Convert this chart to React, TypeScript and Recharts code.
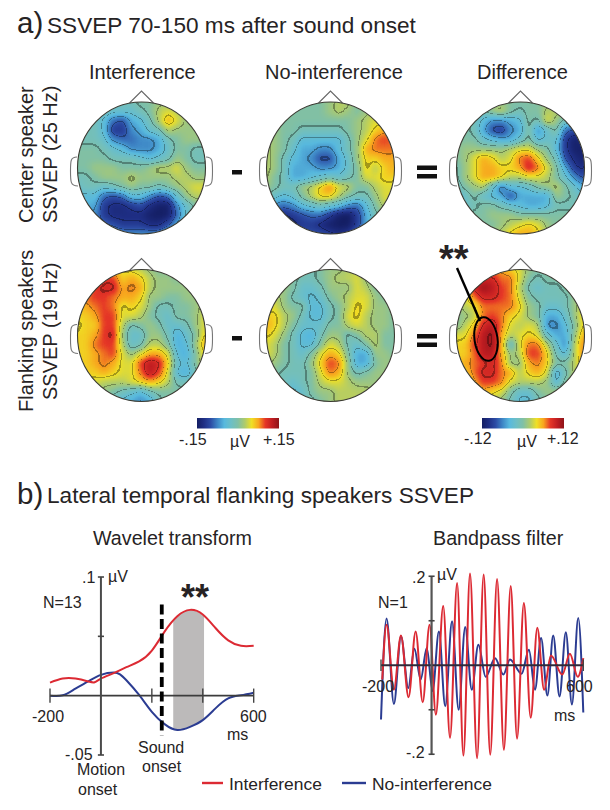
import React from 'react';
import { ScatterChart, Scatter, XAxis, YAxis, ComposedChart, Line, Area, ReferenceLine } from 'recharts';

// ---------- topographic maps, values read on a 15x15 grid (arbitrary colour units, 0 = teal) ----------
const centerInterference = [
[0,0,0,0,-1,-1,-1,0,0,1,1,1,0,0,0],
[0,0,-1,-1,-2,-2,-2,-1,0,2,3,2,1,0,0],
[-1,-1,-1,-3,-6,-7,-4,-3,-1,2,5,3,1,1,1],
[-1,-1,-1,-3,-8,-8,-5,-4,-2,-1,2,1,1,1,1],
[-1,-1,-1,-2,-5,-6,-6,-5,-5,-4,-1,0,1,1,1],
[0,0,0,-1,-2,-3,-5,-5,-5,-4,-2,0,0,-1,-1],
[0,0,0,0,-1,-1,-1,-2,-3,-2,-1,1,0,-1,-1],
[0,0,1,1,1,0,0,0,1,2,2,3,1,0,0],
[-1,-1,0,1,1,1,2,1,1,1,1,2,2,1,1],
[-2,-1,-1,-2,-1,0,1,0,0,-1,0,1,2,3,3],
[-3,-3,-3,-6,-7,-6,-3,-3,-5,-7,-6,-2,1,2,2],
[-3,-4,-4,-8,-9,-9,-8,-7,-9,-10,-10,-5,-2,0,0],
[-3,-4,-5,-8,-9,-9,-9,-9,-10,-11,-10,-6,-2,-1,-1],
[-3,-4,-4,-6,-7,-8,-8,-8,-9,-9,-7,-4,-2,-1,-1],
[-2,-3,-3,-4,-4,-5,-5,-5,-5,-5,-3,-2,-1,-1,-1],
];
const centerNoInterference = [
[1,1,1,0,0,0,0,1,2,2,0,0,0,0,0],
[1,1,1,0,0,0,0,1,2,1,0,1,2,1,1],
[2,1,0,0,0,0,0,0,0,0,1,2,3,2,2],
[2,1,0,0,-1,-1,-1,-1,-1,0,1,2,4,5,5],
[2,1,0,-1,-3,-3,-3,-3,-3,-1,1,3,6,7,6],
[2,1,0,-2,-4,-4,-5,-5,-3,-1,1,5,6,6,6],
[2,1,-1,-3,-4,-5,-7,-7,-4,-2,1,4,4,5,5],
[2,1,-1,-4,-4,-4,-5,-5,-4,-2,0,4,2,4,5],
[2,0,-1,-4,-4,-3,-2,-1,-2,-1,0,3,3,4,4],
[1,0,-1,-1,1,2,4,6,3,2,0,0,2,3,3],
[0,-2,-3,-2,0,2,4,4,2,0,-1,-1,1,3,3],
[-3,-5,-6,-5,-3,-2,-1,-2,-3,-5,-6,-3,0,2,2],
[-5,-8,-9,-8,-7,-6,-6,-8,-10,-11,-8,-4,-1,1,1],
[-5,-8,-9,-9,-8,-8,-9,-10,-11,-11,-8,-4,-2,0,0],
[-4,-6,-7,-7,-7,-7,-7,-8,-9,-8,-5,-3,-2,-1,-1],
];
const centerDifference = [
[0,0,0,0,1,1,0,0,0,0,1,0,0,0,0],
[0,0,0,-1,1,2,0,-1,0,0,2,2,1,0,0],
[0,0,-1,-3,-5,-5,-4,-3,0,-1,3,1,-1,-2,-2],
[0,0,-1,-4,-7,-8,-5,-4,0,-5,-2,0,-6,-7,-7],
[0,0,0,-2,-3,-4,-4,-2,0,-3,-2,-2,-8,-10,-9],
[0,1,1,1,1,1,2,3,3,1,0,-3,-8,-10,-10],
[0,1,3,5,4,2,3,6,7,4,1,-1,-7,-9,-10],
[-1,1,3,5,5,4,4,5,8,6,3,0,-4,-8,-9],
[-1,1,3,5,5,4,2,2,3,3,2,0,-2,-5,-7],
[-2,0,1,2,-2,-6,-3,-3,-2,0,1,2,0,-2,-4],
[-3,-2,0,-2,-3,-4,-7,-4,-4,-4,-4,1,0,-1,-2],
[-3,-2,-1,0,0,-1,-2,-3,-4,-4,-3,-1,-1,-1,-1],
[-2,-1,0,0,1,1,1,0,0,0,0,0,0,0,0],
[-2,0,0,0,0,1,2,3,4,3,1,0,1,1,1],
[-1,0,0,1,1,2,4,5,5,4,2,1,1,1,1],
];
const flankInterference = [
[3,3,3,4,4,3,3,2,1,0,0,0,1,1,1],
[4,4,5,7,7,4,5,4,2,1,1,0,1,1,1],
[4,5,7,8,8,5,6,5,2,1,1,1,1,1,1],
[5,6,7,7,6,5,5,4,1,1,0,0,1,1,1],
[4,5,6,7,6,3,4,3,1,-1,-1,0,0,1,2],
[4,4,5,7,7,3,3,2,0,-1,-2,0,0,1,3],
[3,4,4,7,7,2,-1,0,1,0,-2,-2,-1,1,3],
[4,4,5,7,8,1,-2,-2,1,1,-1,-4,-2,0,4],
[4,4,6,7,7,2,-2,-1,2,2,0,-4,-3,1,5],
[4,4,5,6,7,3,1,3,5,5,3,-3,-4,0,4],
[4,4,5,6,5,3,3,7,9,8,4,-2,-3,0,3],
[3,4,4,5,4,3,3,6,9,7,3,-3,-4,-1,2],
[3,3,3,2,2,2,3,4,5,4,2,-1,-1,0,1],
[2,2,1,1,0,-1,-2,-3,-1,0,0,0,0,0,0],
[1,1,0,-1,-2,-3,-4,-5,-4,-1,0,0,0,0,0],
];
const flankNoInterference = [
[1,1,1,1,0,-1,0,1,1,2,2,1,0,0,0],
[1,1,1,0,-1,-1,0,1,2,2,3,1,0,0,0],
[2,1,1,0,-2,-2,-1,1,1,1,3,2,0,0,0],
[2,2,1,-1,-2,-3,-2,0,1,2,3,3,1,0,0],
[3,3,1,0,0,-3,-3,-1,0,2,4,3,1,1,0],
[4,4,2,1,-1,-3,-3,-1,0,3,4,2,1,1,0],
[5,4,2,0,-2,-2,-2,0,0,2,3,2,1,1,0],
[4,3,1,-1,-3,-4,-1,1,1,-1,0,2,2,0,0],
[3,2,0,-1,-3,-3,0,3,2,-1,-2,0,2,0,0],
[3,2,0,-1,-2,0,3,5,4,0,-4,-4,1,1,0],
[2,1,0,-1,-1,1,4,7,6,1,-4,-4,0,1,1],
[1,0,-1,-1,-1,0,3,6,5,1,-1,0,1,1,0],
[0,-1,-1,-2,-1,0,2,3,3,2,1,1,1,1,1],
[-1,-2,-2,-3,-2,0,1,1,2,2,2,2,1,1,1],
[-1,-2,-3,-3,-2,-1,0,1,2,2,2,1,1,1,1],
];
const flankDifference = [
[3,3,4,5,5,5,4,3,1,0,0,0,0,0,0],
[3,3,6,8,8,6,6,3,0,-1,0,0,0,0,1],
[2,3,8,10,9,7,6,2,-1,-2,-1,-1,0,1,1],
[2,3,6,8,8,7,6,3,0,-1,-1,-1,-1,1,2],
[1,2,3,6,6,6,6,4,1,0,-2,-2,-1,1,3],
[0,1,2,6,7,6,4,3,1,0,-4,-4,-2,1,4],
[0,2,4,8,9,6,3,2,3,2,-5,-5,-3,0,4],
[3,3,6,9,10,5,2,3,4,3,-2,-4,-4,1,5],
[4,4,7,9,10,5,-2,3,6,6,2,-2,-5,2,6],
[4,4,6,9,9,5,1,2,7,7,4,-1,-3,2,6],
[4,5,6,7,8,6,1,1,5,6,4,0,0,2,5],
[3,4,6,8,8,6,5,2,4,5,3,-4,-1,2,3],
[2,3,5,7,7,6,3,2,2,2,1,-3,0,2,2],
[1,2,3,5,4,3,0,-2,-2,0,1,1,2,2,2],
[0,1,2,3,2,1,-1,-3,-3,-1,0,1,1,1,1],
];
const colorStops = ['#141e63','#1f2f85','#2c4ca5','#3e86c6','#58b9de','#6dbfc6','#80c0a6','#aecb6c','#f0e024','#f8a51e','#e53627','#c01d22','#8e1418'];
const contourLevels = [-9.7,-7.5,-5.2,-2.9,-0.6,1.7,4,6.3,8.6,10.9];

// ---------- wavelet transform (N=13) ----------
const waveletMs = [-200,-150,-100,-50,-25,0,50,100,150,200,250,300,350,400,450,500,550,600];
const waveletRed = [.011,.0144,.0144,.012,.0113,.0144,.019,.024,.0288,.038,.054,.067,.0723,.0684,.057,.0466,.042,.042];
const waveletBlueMs = [-200,-150,-100,-50,0,50,75,100,150,200,250,300,350,400,450,500,550,600];
const waveletBlue = [0,.0003,.006,.012,.0175,.0195,.018,.013,.0006,-.0136,-.024,-.029,-.0263,-.0206,-.0107,-.0023,.0003,.0025];
const shadeMs = [284,300,350,405];
const shadeLow = [-.0285,-.029,-.0263,-.0197];
const shadeHigh = [.063,.067,.0723,.067];

// ---------- bandpass filter (N=1), extremes of the oscillation ----------
const bandRedMs = [-195,-178,-149,-121,-91,-63,-35,-8,17,46,73,101,126,152,180,206,232,259,286,313,338,365,392,418,445,472,517,547,578,600];
const bandRed = [-.032,.091,-.055,.067,-.072,.076,-.083,.091,-.111,.133,-.163,.185,-.203,.206,-.209,.204,-.201,.194,-.19,.178,-.165,.14,-.118,.084,-.055,.022,-.021,.026,-.026,.016];
const bandBlueMs = [-200,-178,-149,-121,-92,-68,-43,-19,4,29,54,81,107,133,159,185,214,251,284,310,356,385,409,433,458,481,506,531,555,580,600];
const bandBlue = [-.122,.105,-.087,.065,-.051,.037,-.032,.039,-.058,.076,-.092,.099,-.1,.086,-.055,.046,-.026,.016,-.021,.013,-.019,.035,-.055,.061,-.068,.067,-.07,.074,-.088,.106,-.106];

const FONT = '"Liberation Sans", Arial, sans-serif';
const INK = '#262324';
const RED = '#dc2a33';
const BLUE = '#2b3c92';

const hexRgb = (h: string) => [1, 3, 5].map((i) => parseInt(h.slice(i, i + 2), 16));
const N_TABLE = 256;
function colorTable() {
  const r: string[] = [], g: string[] = [], b: string[] = [];
  for (let i = 0; i < N_TABLE; i++) {
    const v = -12 + (24 * i) / 255;
    const p = Math.min(11.999, (v + 12) / 2);
    const k = Math.floor(p), t = p - k;
    const a = hexRgb(colorStops[k]), c = hexRgb(colorStops[k + 1]);
    const dist = Math.min(...contourLevels.map((l) => Math.abs(l - v)));
    const f = dist < 0.12 ? 0.68 : 1;
    const col = a.map((x, j) => ((x + (c[j] - x) * t) * f) / 255);
    r.push(col[0].toFixed(3)); g.push(col[1].toFixed(3)); b.push(col[2].toFixed(3));
  }
  return [r.join(' '), g.join(' '), b.join(' ')];
}
const GAIN = 1.15;
const grayOf = (v: number) => Math.round(((Math.max(-12, Math.min(12, v * GAIN)) + 12) / 24) * 255);

function Topo({ grid, cx, cy }: { grid: number[][]; cx: number; cy: number }) {
  const rx = 64, ry = 66;
  const sx = (2 * rx) / 14, sy = (2 * ry) / 14;
  const w = sx * 16, h = sy * 16;
  const cells = grid.flatMap((row, j) => row.map((v, i) => ({ col: i, row: j, v })));
  const g0 = grayOf(0);
  return (
    <div style={{ position: 'absolute', left: cx - w / 2, top: cy - h / 2, width: w, height: h, background: `rgb(${g0},${g0},${g0})`,
      filter: 'url(#topoFilter)', clipPath: `ellipse(${rx}px ${ry}px at ${w / 2}px ${h / 2}px)` }}>
      <ScatterChart width={w} height={h} margin={{ top: 0, right: 0, bottom: 0, left: 0 }}>
        <XAxis type="number" dataKey="col" domain={[-1, 15]} hide />
        <YAxis type="number" dataKey="row" domain={[-1, 15]} reversed hide />
        <Scatter data={cells} isAnimationActive={false} shape={(p: any) => {
          const g = grayOf(p.payload.v);
          return <rect x={p.cx - sx / 2 - 0.5} y={p.cy - sy / 2 - 0.5} width={sx + 1} height={sy + 1} fill={`rgb(${g},${g},${g})`} />;
        }} />
      </ScatterChart>
    </div>
  );
}

function Head({ cx, cy }: { cx: number; cy: number }) {
  const rx = 64, ry = 66;
  return (
    <g fill="none">
      <path d={`M${cx - 12} ${cy - ry + 1} L${cx} ${cy - ry - 11} L${cx + 12} ${cy - ry + 1}`} stroke="#666" strokeWidth={1.1} />
      <path d={`M${cx - rx - 0.5} ${cy - 11} C${cx - rx - 7} ${cy - 11} ${cx - rx - 7} ${cy - 7} ${cx - rx - 7} ${cy + 3} C${cx - rx - 7} ${cy + 14} ${cx - rx - 7} ${cy + 18} ${cx - rx + 0.5} ${cy + 18}`} stroke="#777" strokeWidth={1.1} />
      <path d={`M${cx + rx + 0.5} ${cy - 11} C${cx + rx + 7} ${cy - 11} ${cx + rx + 7} ${cy - 7} ${cx + rx + 7} ${cy + 3} C${cx + rx + 7} ${cy + 14} ${cx + rx + 7} ${cy + 18} ${cx + rx - 0.5} ${cy + 18}`} stroke="#777" strokeWidth={1.1} />
      <ellipse cx={cx} cy={cy} rx={rx} ry={ry} stroke="#3a3a32" strokeWidth={1.1} />
    </g>
  );
}

function T({ x, y, s = 16, children, anchor, rot, weight }: any) {
  return (
    <text x={x} y={y} fontSize={s} fontFamily={FONT} fill={INK} textAnchor={anchor || 'start'} fontWeight={weight}
      transform={rot ? `rotate(-90 ${x} ${y})` : undefined}>{children}</text>
  );
}

const toXY = (xs: number[], ys: number[]) => xs.map((x, i) => ({ x, y: ys[i] }));

function WaveletChart() {
  const shade = shadeMs.map((x, i) => ({ x, range: [shadeLow[i], shadeHigh[i]] }));
  const m = 10;
  return (
    <div style={{ position: 'absolute', left: 50 - m, top: 577.3 - m }}>
      <ComposedChart width={203.7 + 2 * m} height={178 + 2 * m} margin={{ top: m, right: m, bottom: m, left: m }}>
        <XAxis type="number" dataKey="x" domain={[-200, 600]} hide />
        <YAxis type="number" domain={[-0.05, 0.1]} hide />
        <Area data={shade} dataKey="range" type="monotone" fill="#bcbaba" fillOpacity={1} stroke="none" isAnimationActive={false} />
        <Line data={toXY(waveletBlueMs, waveletBlue)} dataKey="y" type="natural" stroke={BLUE} strokeWidth={2} dot={false} isAnimationActive={false} />
        <Line data={toXY(waveletMs, waveletRed)} dataKey="y" type="natural" stroke={RED} strokeWidth={2} dot={false} isAnimationActive={false} />
        <ReferenceLine y={0} stroke="#3c3c3c" strokeWidth={1.6} ifOverflow="visible" />
        <ReferenceLine x={0} stroke="#4a4a4a" strokeWidth={2} ifOverflow="visible" />
        {[-200, 200, 400, 600].map((t) => (
          <ReferenceLine key={t} stroke="#444" strokeWidth={1.4} ifOverflow="visible" segment={[{ x: t, y: -0.006 }, { x: t, y: 0.006 }]} />
        ))}
        {[0.1, 0.05, -0.05].map((v) => (
          <ReferenceLine key={v} stroke="#444" strokeWidth={1.6} ifOverflow="visible" segment={[{ x: -12, y: v }, { x: 12, y: v }]} />
        ))}
        <ReferenceLine stroke="#000" strokeWidth={3.8} strokeDasharray="10 4.5" ifOverflow="visible" segment={[{ x: 239, y: 0.0768 }, { x: 239, y: -0.0333 }]} />
      </ComposedChart>
    </div>
  );
}

function BandpassChart() {
  const m = 10;
  const H = 89 * 2.5; // +/-0.25 domain
  return (
    <div style={{ position: 'absolute', left: 381 - m, top: 665.7 - H / 2 - m }}>
      <ComposedChart width={202.3 + 2 * m} height={H + 2 * m} margin={{ top: m, right: m, bottom: m, left: m }}>
        <XAxis type="number" dataKey="x" domain={[-200, 600]} hide />
        <YAxis type="number" domain={[-0.25, 0.25]} hide />
        <Line data={toXY(bandBlueMs, bandBlue)} dataKey="y" type="monotone" stroke={BLUE} strokeWidth={2} dot={false} isAnimationActive={false} />
        <Line data={toXY(bandRedMs, bandRed)} dataKey="y" type="monotone" stroke={RED} strokeWidth={2} dot={false} isAnimationActive={false} />
        <ReferenceLine y={0} stroke="#2f2a3a" strokeWidth={1.8} ifOverflow="visible" />
        <ReferenceLine stroke="#555" strokeWidth={2.2} ifOverflow="visible" segment={[{ x: 0, y: -0.2 }, { x: 0, y: 0.2 }]} />
        {[-200, 600].map((t) => (
          <ReferenceLine key={t} stroke="#444" strokeWidth={1.4} ifOverflow="visible" segment={[{ x: t, y: -0.013 }, { x: t, y: 0.013 }]} />
        ))}
        {[0.2, 0.1, -0.1, -0.2].map((v) => (
          <ReferenceLine key={v} stroke="#444" strokeWidth={1.6} ifOverflow="visible" segment={[{ x: -12, y: v }, { x: 12, y: v }]} />
        ))}
      </ComposedChart>
    </div>
  );
}

const topoCols = [141.5, 330.5, 520.5];
const topoRows = [168, 335.5];

export default function App() {
  const [tr, tg, tb] = colorTable();
  return (
    <div style={{ position: 'absolute', left: 0, top: 0, width: 610, height: 810, background: '#fff', overflow: 'hidden' }}>
      <svg width={0} height={0} style={{ position: 'absolute' }}>
        <defs>
          <filter id="topoFilter" x="0" y="0" width="100%" height="100%" colorInterpolationFilters="sRGB">
            <feGaussianBlur stdDeviation={3.6} />
            <feComponentTransfer>
              <feFuncR type="discrete" tableValues={tr} />
              <feFuncG type="discrete" tableValues={tg} />
              <feFuncB type="discrete" tableValues={tb} />
            </feComponentTransfer>
            <feGaussianBlur stdDeviation={0.5} />
          </filter>
        </defs>
      </svg>
      <Topo grid={centerInterference} cx={topoCols[0]} cy={topoRows[0]} />
      <Topo grid={centerNoInterference} cx={topoCols[1]} cy={topoRows[0]} />
      <Topo grid={centerDifference} cx={topoCols[2]} cy={topoRows[0]} />
      <Topo grid={flankInterference} cx={topoCols[0]} cy={topoRows[1]} />
      <Topo grid={flankNoInterference} cx={topoCols[1]} cy={topoRows[1]} />
      <Topo grid={flankDifference} cx={topoCols[2]} cy={topoRows[1]} />
      <WaveletChart />
      <BandpassChart />
      <svg width={610} height={810} style={{ position: 'absolute', left: 0, top: 0, pointerEvents: 'none' }}>
        <defs>
          <linearGradient id="cbar">
            {colorStops.map((c, i) => <stop key={i} offset={i / (colorStops.length - 1)} stopColor={c} />)}
          </linearGradient>
        </defs>
        {topoRows.map((cy) => topoCols.map((cx) => <Head key={`${cx}-${cy}`} cx={cx} cy={cy} />))}

        <T x={17} y={33} s={29.5}>a)</T>
        <T x={47} y={33} s={22.6}>SSVEP 70-150 ms after sound onset</T>
        <T x={89} y={79} s={20}>Interference</T>
        <T x={265} y={79} s={20}>No-interference</T>
        <T x={477} y={79} s={20}>Difference</T>
        <T x={33} y={223} s={20} rot>Center speaker</T>
        <T x={57} y={223} s={20} rot>SSVEP (25 Hz)</T>
        <T x={33} y={412} s={20} rot>Flanking speakers</T>
        <T x={57} y={400} s={20} rot>SSVEP (19 Hz)</T>

        {[[232, 170, 10, 4.5], [232, 336, 10, 4.5], [417, 165.5, 20, 4.5], [417, 174, 20, 4.5], [417, 334, 20, 4.5], [417, 342.5, 20, 4.5]].map(([x, y, w, h], i) => (
          <rect key={i} x={x} y={y} width={w} height={h} fill="#111" />
        ))}

        <rect x={197} y={418} width={82} height={10.5} fill="url(#cbar)" />
        <rect x={482} y={418} width={82} height={10.5} fill="url(#cbar)" />
        <T x={179} y={445}>-.15</T>
        <T x={230} y={447}>µV</T>
        <T x={263} y={445}>+.15</T>
        <T x={464} y={444}>-.12</T>
        <T x={517} y={447}>µV</T>
        <T x={547} y={444}>+.12</T>

        <T x={439} y={272} s={38} weight="bold">**</T>
        <line x1={457} y1={268} x2={480} y2={321} stroke="#000" strokeWidth={2.4} />
        <ellipse cx={486} cy={339} rx={11.5} ry={22} transform="rotate(-8 486 339)" fill="none" stroke="#000" strokeWidth={2} />

        <T x={17} y={504} s={29.5}>b)</T>
        <T x={47} y={503} s={22.6}>Lateral temporal flanking speakers SSVEP</T>
        <T x={93} y={545} s={19.7}>Wavelet transform</T>
        <T x={433} y={545} s={19.7}>Bandpass filter</T>

        <T x={82} y={583}>.1</T>
        <T x={108} y={582}>µV</T>
        <T x={43} y={608}>N=13</T>
        <T x={181} y={610} s={36} weight="bold">**</T>
        <T x={32} y={722}>-200</T>
        <T x={240} y={722}>600</T>
        <T x={227} y={740}>ms</T>
        <T x={65} y={760}>-.05</T>
        <T x={77} y={775}>Motion</T>
        <T x={78} y={795}>onset</T>
        <T x={138} y={753}>Sound</T>
        <T x={142} y={772}>onset</T>

        <T x={412} y={583}>.2</T>
        <T x={437} y={580}>µV</T>
        <T x={378} y={608}>N=1</T>
        <T x={362} y={692}>-200</T>
        <T x={566} y={692}>600</T>
        <T x={554} y={721}>ms</T>
        <T x={406} y={758}>-.2</T>

        <line x1={202} y1={783} x2={223} y2={783} stroke={RED} strokeWidth={2.4} />
        <T x={229} y={790} s={17.4}>Interference</T>
        <line x1={342} y1={783} x2={366} y2={783} stroke={BLUE} strokeWidth={2.4} />
        <T x={372} y={790} s={17.4}>No-interference</T>
      </svg>
    </div>
  );
}
